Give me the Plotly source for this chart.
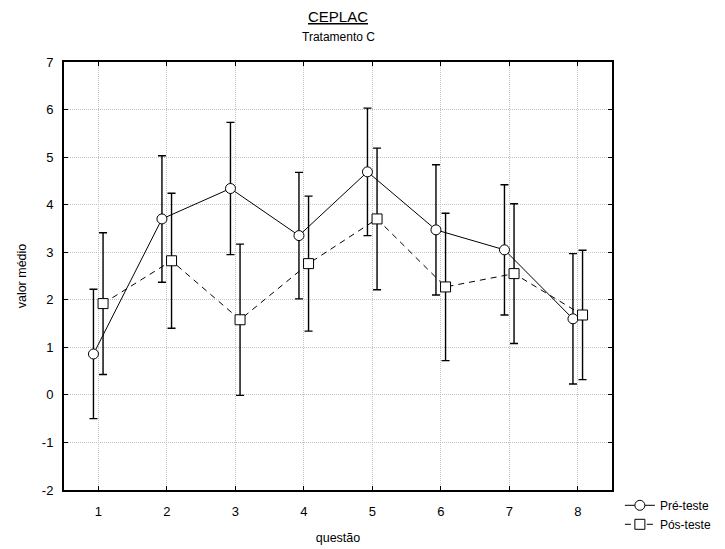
import plotly.graph_objects as go

questions = [1, 2, 3, 4, 5, 6, 7, 8]
pre_mean = [0.86, 3.70, 4.34, 3.35, 4.69, 3.47, 3.05, 1.60]
pre_err = [1.36, 1.33, 1.39, 1.33, 1.34, 1.37, 1.37, 1.37]
pos_mean = [1.92, 2.82, 1.58, 2.76, 3.70, 2.27, 2.55, 1.68]
pos_err = [1.49, 1.42, 1.59, 1.42, 1.49, 1.55, 1.47, 1.36]
y_ticks = [-2, -1, 0, 1, 2, 3, 4, 5, 6, 7]
y_labels = ["-2", "-1", "0", "1", "2", "3", "4", "5", "6", "7"]
offset = 0.07

font = "Liberation Sans, Arial, sans-serif"

fig = go.Figure()
fig.add_trace(go.Scatter(
    x=[q - offset for q in questions], y=pre_mean, name="Pré-teste",
    mode="lines+markers",
    line=dict(color="black", width=1),
    marker=dict(symbol="circle", size=10, color="white", line=dict(color="black", width=1)),
    error_y=dict(type="data", array=pre_err, visible=True, color="black", thickness=1.4, width=4),
))
fig.add_trace(go.Scatter(
    x=[q + offset for q in questions], y=pos_mean, name="Pós-teste",
    mode="lines+markers",
    line=dict(color="black", width=1, dash="6px,5px"),
    marker=dict(symbol="square", size=10, color="white", line=dict(color="black", width=1)),
    error_y=dict(type="data", array=pos_err, visible=True, color="black", thickness=1.4, width=4),
))

fig.update_layout(
    width=725, height=549,
    margin=dict(l=64, r=113, t=62, b=59, autoexpand=False),
    paper_bgcolor="white", plot_bgcolor="white",
    font=dict(family=font, size=12, color="black"),
    showlegend=True,
    legend=dict(xref="container", yref="container", x=0.855, y=0.106,
                xanchor="left", yanchor="top",
                font=dict(size=12), tracegroupgap=0, itemwidth=30,
                bgcolor="rgba(0,0,0,0)"),
    annotations=[
        dict(text="<u>CEPLAC</u>", x=0.5, y=1.0, xref="paper", yref="paper",
             xanchor="center", yanchor="bottom", yshift=35, showarrow=False,
             font=dict(size=15, family=font)),
        dict(text="Tratamento C", x=0.5, y=1.0, xref="paper", yref="paper",
             xanchor="center", yanchor="bottom", yshift=16, showarrow=False,
             font=dict(size=12, family=font)),
    ],
)
grid = dict(showgrid=True, gridcolor="#c4c4c4", griddash="1px,1px", gridwidth=1)
fig.update_xaxes(
    range=[0.5, 8.5], tickvals=questions, ticktext=[str(q) for q in questions],
    tickfont=dict(size=13), ticklabelstandoff=8,
    title=dict(text="questão", standoff=16, font=dict(size=12.5)),
    showline=True, linecolor="black", linewidth=2, mirror="ticks",
    ticks="inside", ticklen=4, tickcolor="black", zeroline=False, **grid,
)
fig.update_yaxes(
    range=[-2, 7], tickvals=y_ticks, ticktext=y_labels,
    tickfont=dict(size=13), ticklabelstandoff=6,
    title=dict(text="valor médio", standoff=12, font=dict(size=12.5)),
    showline=True, linecolor="black", linewidth=2, mirror="ticks",
    ticks="inside", ticklen=4, tickcolor="black", zeroline=False, **grid,
)

fig.write_html("out.html")
